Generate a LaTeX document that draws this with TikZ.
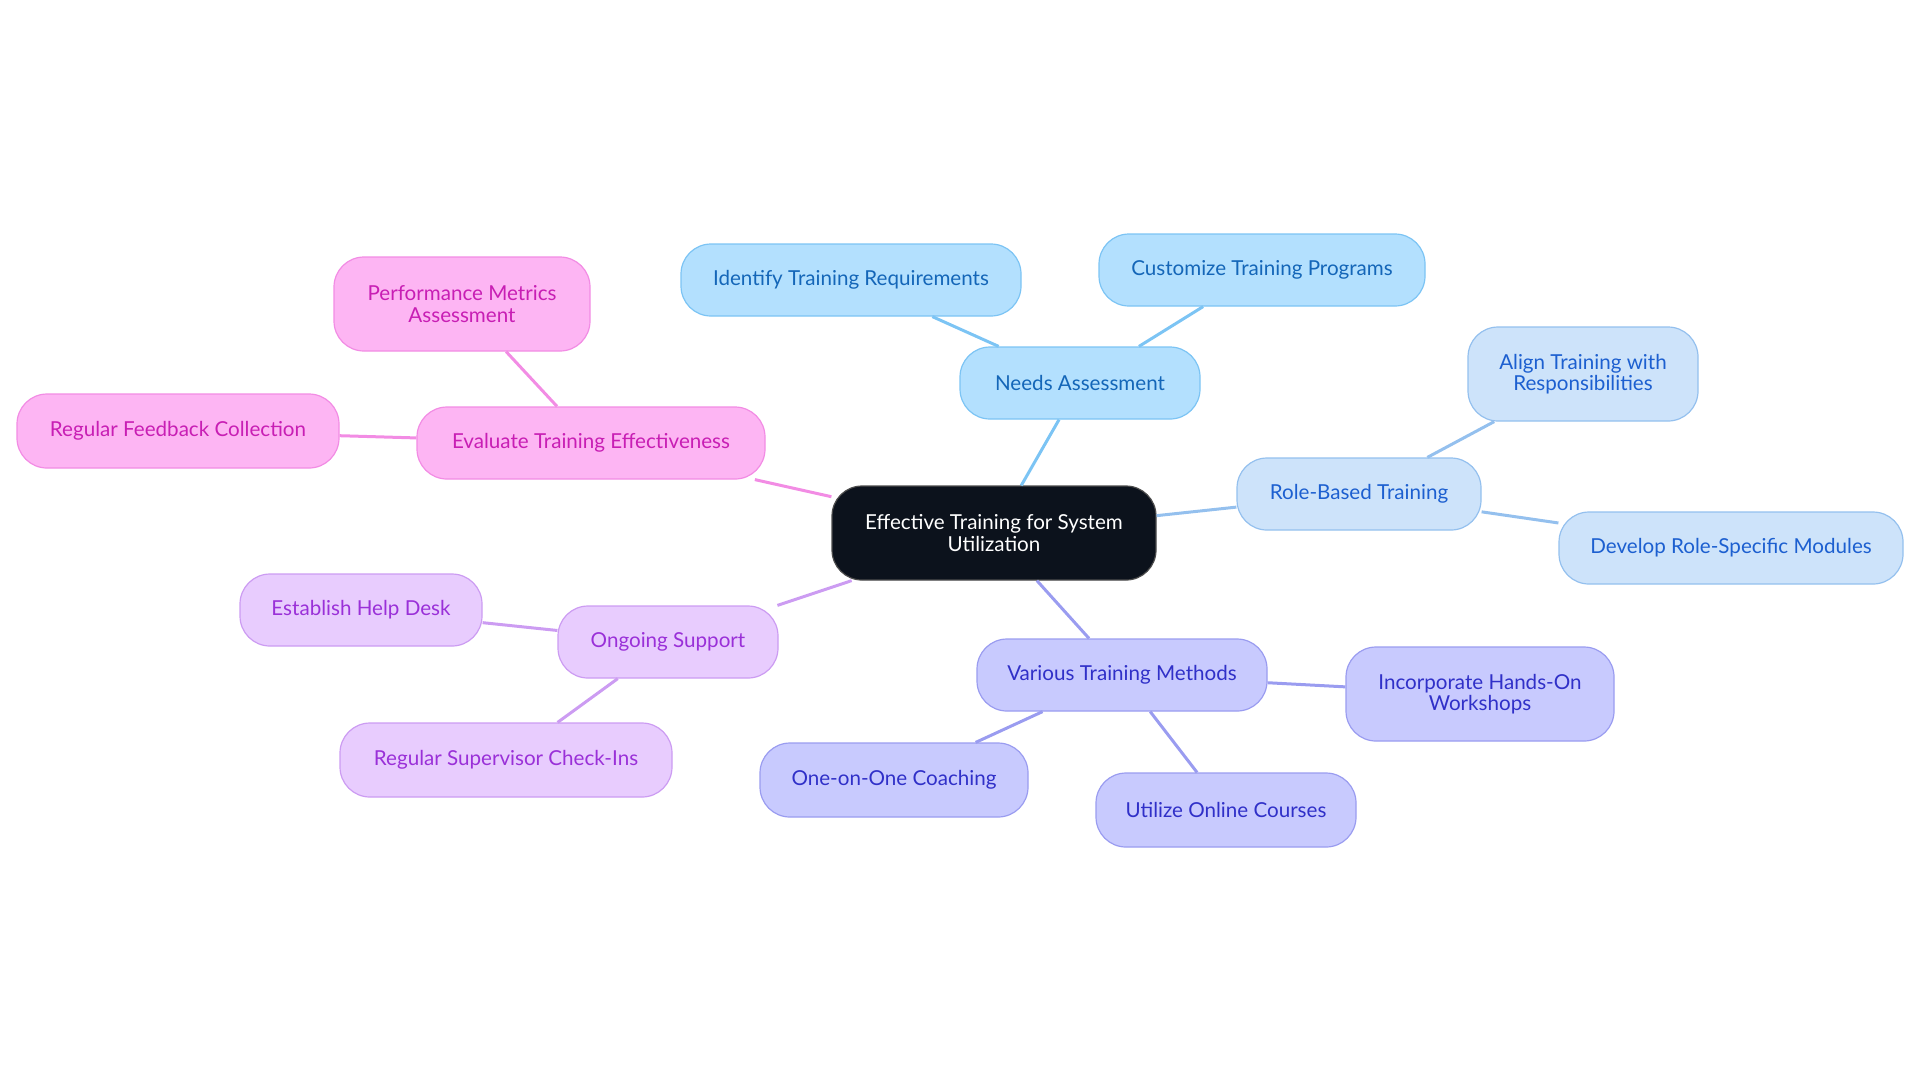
\documentclass[tikz,border=0pt]{standalone}
\usepackage{fontspec}
\setmainfont{Lato}
\usetikzlibrary{calc}
\definecolor{rootfill}{HTML}{0C121C}
\definecolor{needfill}{HTML}{B3E0FE}\definecolor{needline}{HTML}{7CC4F4}\definecolor{needtext}{HTML}{1466B8}
\definecolor{rolefill}{HTML}{CDE3FA}\definecolor{roleline}{HTML}{94C0EE}\definecolor{roletext}{HTML}{1C5FD0}
\definecolor{methfill}{HTML}{C8CAFE}\definecolor{methline}{HTML}{9A9CF0}\definecolor{methtext}{HTML}{3030C8}
\definecolor{suppfill}{HTML}{E8CCFE}\definecolor{suppline}{HTML}{CC9CF2}\definecolor{supptext}{HTML}{9A30D8}
\definecolor{evalfill}{HTML}{FDB5F3}\definecolor{evalline}{HTML}{F28CE4}\definecolor{evaltext}{HTML}{C81EB4}
\begin{document}
\begin{tikzpicture}[x=0.5pt,y=-0.5pt,
  box/.style={rounded corners=15pt,line width=0.6pt,align=center,inner sep=0pt,
    font=\fontsize{10.3}{10.6}\selectfont},
  need/.style={box,fill=needfill,draw=needline,text=needtext},
  role/.style={box,fill=rolefill,draw=roleline,text=roletext},
  meth/.style={box,fill=methfill,draw=methline,text=methtext},
  supp/.style={box,fill=suppfill,draw=suppline,text=supptext},
  eval/.style={box,fill=evalfill,draw=evalline,text=evaltext},
  link/.style={line width=1.5pt}]
\useasboundingbox (0,0) rectangle (1920,1083);
\node[box,fill=rootfill,draw=black!70,text=white,minimum width=162pt,minimum height=47pt] (root) at (994,533) {Effective Training for System\\Utilization};
\node[need,minimum width=120pt,minimum height=36pt] (needs) at (1080,383) {Needs Assessment};
\node[need,minimum width=170pt,minimum height=36pt] (ident) at (851,280) {Identify Training Requirements};
\node[need,minimum width=163pt,minimum height=36pt] (custom) at (1262,270) {Customize Training Programs};
\node[role,minimum width=122pt,minimum height=36pt] (rolebased) at (1359,494) {Role-Based Training};
\node[role,minimum width=115pt,minimum height=47pt] (align) at (1583,374) {Align Training with\\Responsibilities};
\node[role,minimum width=172pt,minimum height=36pt] (develop) at (1731,548) {Develop Role-Specific Modules};
\node[meth,minimum width=145pt,minimum height=36pt] (methods) at (1122,675) {Various Training Methods};
\node[meth,minimum width=134pt,minimum height=47pt] (hands) at (1480,694) {Incorporate Hands-On\\Workshops};
\node[meth,minimum width=134pt,minimum height=37pt] (coach) at (894,780) {One-on-One Coaching};
\node[meth,minimum width=130pt,minimum height=37pt] (online) at (1226,810) {Utilize Online Courses};
\node[supp,minimum width=110pt,minimum height=36pt] (support) at (668,642) {Ongoing Support};
\node[supp,minimum width=121pt,minimum height=36pt] (help) at (361,610) {Establish Help Desk};
\node[supp,minimum width=166pt,minimum height=37pt] (checkin) at (506,760) {Regular Supervisor Check-Ins};
\node[eval,minimum width=174pt,minimum height=36pt] (evaluate) at (591,443) {Evaluate Training Effectiveness};
\node[eval,minimum width=128pt,minimum height=47pt] (metrics) at (462,304) {Performance Metrics\\Assessment};
\node[eval,minimum width=161pt,minimum height=37pt] (feedback) at (178,431) {Regular Feedback Collection};
\draw[link,needline] (root)--(needs) (needs)--(ident) (needs)--(custom);
\draw[link,roleline] (root)--(rolebased) (rolebased)--(align) (rolebased)--(develop);
\draw[link,methline] (root)--(methods) (methods)--(hands) (methods)--(coach) (methods)--(online);
\draw[link,suppline] (root)--(support) (support)--(help) (support)--(checkin);
\draw[link,evalline] (root)--(evaluate) (evaluate)--(metrics) (evaluate)--(feedback);
\end{tikzpicture}
\end{document}
